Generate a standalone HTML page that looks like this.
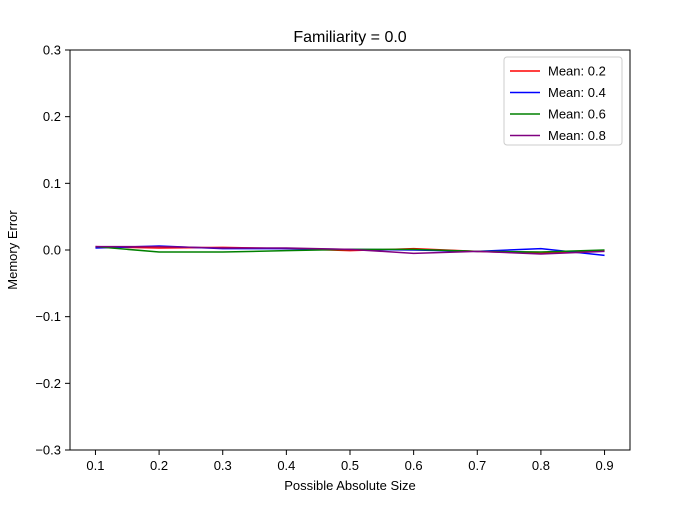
<!DOCTYPE html>
<html><head><meta charset="utf-8"><style>
body{margin:0;background:#fff;}
svg{font-family:"Liberation Sans","DejaVu Sans",sans-serif;}
</style></head><body>
<svg id="chart" width="700" height="500">
<rect x="0" y="0" width="700" height="500" fill="#fff"/>
<text x="350" y="42" text-anchor="middle" font-size="16">Familiarity = 0.0</text>
<g id="ticks"></g>
<g id="lines"></g>
<rect x="70" y="50" width="560" height="400" fill="none" stroke="#000" stroke-width="1"/>
<text x="350" y="490" text-anchor="middle" font-size="13">Possible Absolute Size</text>
<text x="17" y="250" text-anchor="middle" font-size="13" transform="rotate(-90 17 250)">Memory Error</text>
<g id="legend">
<rect x="504" y="57" width="118" height="88" rx="3" fill="#fff" stroke="#ccc"/>
</g>
</svg>
<script>
const xs=[0.1,0.2,0.3,0.4,0.5,0.6,0.7,0.8,0.9];
const seriesNames=["Mean: 0.2","Mean: 0.4","Mean: 0.6","Mean: 0.8"];
const seriesColors=["red","blue","green","purple"];
const red=[0.005,0.003,0.004,0.002,-0.001,0.002,-0.002,-0.005,-0.001];
const blue=[0.003,0.006,0.002,0.002,0.001,0.0,-0.002,0.002,-0.008];
const green=[0.005,-0.003,-0.003,-0.001,0.001,0.001,-0.002,-0.003,0.0];
const purple=[0.005,0.005,0.003,0.003,0.001,-0.005,-0.002,-0.006,-0.002];
const xTicks=[0.1,0.2,0.3,0.4,0.5,0.6,0.7,0.8,0.9];
const yTicks=[-0.3,-0.2,-0.1,0.0,0.1,0.2,0.3];
const NS="http://www.w3.org/2000/svg";
const X=v=>70+(v-0.06)/0.88*560;
const Y=v=>250-v/0.3*200;
const tg=document.getElementById('ticks');
function mk(t,a,p){const e=document.createElementNS(NS,t);for(const k in a)e.setAttribute(k,a[k]);p.appendChild(e);return e;}
xTicks.forEach(v=>{
  const l=mk('line',{x1:X(v),x2:X(v),y1:450,y2:455,stroke:'#000'},tg);
  
  
  const t=mk('text',{x:X(v),y:470,'text-anchor':'middle','font-size':13},tg);
  t.textContent=v.toFixed(1);
  
  
});
yTicks.forEach(v=>{
  const l=mk('line',{x1:65,x2:70,y1:Y(v),y2:Y(v),stroke:'#000'},tg);
  
  
  const t=mk('text',{x:61,y:Y(v)+4.5,'text-anchor':'end','font-size':13},tg);
  t.textContent=(v<0?'\u2212':'')+Math.abs(v).toFixed(1);
  
  
});
const lg=document.getElementById('lines');
const leg=document.getElementById('legend');
[red,blue,green,purple].forEach((s,i)=>{
  const p=mk('polyline',{points:s.map((v,j)=>X(xs[j])+','+Y(v)).join(' '),fill:'none',stroke:seriesColors[i],'stroke-width':1.5},lg);
  
  
  const y=71+i*21.5;
  const l=mk('line',{x1:510,x2:540,y1:y,y2:y,stroke:seriesColors[i],'stroke-width':1.5},leg);
  
  
  const t=mk('text',{x:548,y:y+4.5,'font-size':13},leg);
  t.textContent=seriesNames[i];
  
  
});
</script>
</body></html>
